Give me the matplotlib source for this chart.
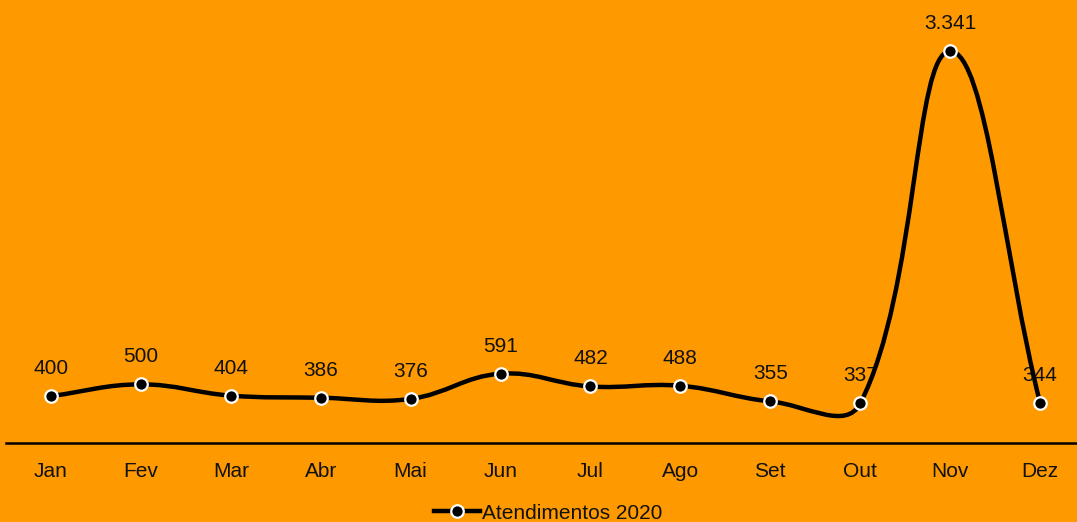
import matplotlib.pyplot as plt
import numpy as np
from matplotlib.path import Path
from matplotlib.patches import PathPatch
from matplotlib.lines import Line2D

plt.rcParams['font.family'] = ['Liberation Sans', 'DejaVu Sans']

meses = ['Jan', 'Fev', 'Mar', 'Abr', 'Mai', 'Jun', 'Jul', 'Ago', 'Set', 'Out', 'Nov', 'Dez']
atendimentos = [400, 500, 404, 386, 376, 591, 482, 488, 355, 337, 3341, 344]
serie = 'Atendimentos 2020'

bg = '#ff9900'
W, H = 1077, 522
fig = plt.figure(figsize=(W / 100, H / 100), dpi=100, facecolor=bg)
ax = fig.add_axes([6 / W, 1 - 443 / H, 1079 / W, 443 / H])
ax.set_facecolor(bg)

x = np.arange(len(meses))
y = np.array(atendimentos, dtype=float)
ax.set_xlim(-0.5, len(meses) - 0.5)
ax.set_ylim(0, 3777)

# curva suavizada (bezier tipo chart.js, tensao 0.4) calculada em pixels
fig.canvas.draw()
pts = ax.transData.transform(np.column_stack([x, y]))
t = 0.4
cps = []
for i in range(len(pts)):
    prev = pts[max(i - 1, 0)]
    cur = pts[i]
    nxt = pts[min(i + 1, len(pts) - 1)]
    d01 = np.hypot(*(cur - prev))
    d12 = np.hypot(*(nxt - cur))
    s = d01 + d12 if d01 + d12 > 0 else 1
    fa = t * d01 / s
    fb = t * d12 / s
    cps.append((cur - fa * (nxt - prev), cur + fb * (nxt - prev)))
verts = [pts[0]]
codes = [Path.MOVETO]
for i in range(1, len(pts)):
    verts += [cps[i - 1][1], cps[i][0], pts[i]]
    codes += [Path.CURVE4] * 3
verts = ax.transData.inverted().transform(np.array(verts))
ax.add_patch(PathPatch(Path(verts, codes), fill=False, edgecolor='black', lw=3.2, zorder=3,
                       capstyle='round', joinstyle='round'))
ax.plot(x, y, ls='none', marker='o', ms=9, mfc='black', mec='white', mew=1.6, zorder=4)

for xi, yi in zip(x, atendimentos):
    lbl = f'{yi:,}'.replace(',', '.')
    ax.annotate(lbl, (xi, yi), xytext=(0, 13), textcoords='offset points', ha='center',
                va='bottom', fontsize=15, color='#111111', zorder=2)

for s in ['top', 'left', 'right']:
    ax.spines[s].set_visible(False)
ax.spines['bottom'].set_linewidth(1.8)
ax.set_xticks(x)
ax.set_xticklabels(meses, fontsize=15, color='#111111')
ax.tick_params(axis='x', length=0, pad=14)
ax.set_yticks([])

h = Line2D([], [], color='black', lw=3.2, marker='o', ms=9, mfc='black', mec='white', mew=1.6)
fig.legend([h], [serie], loc='lower center', bbox_to_anchor=(0.509, -0.037), frameon=False,
           fontsize=15, handlelength=2.2, handletextpad=0.1, labelcolor='#111111')

fig.savefig('out.png', dpi=100, facecolor=bg)
